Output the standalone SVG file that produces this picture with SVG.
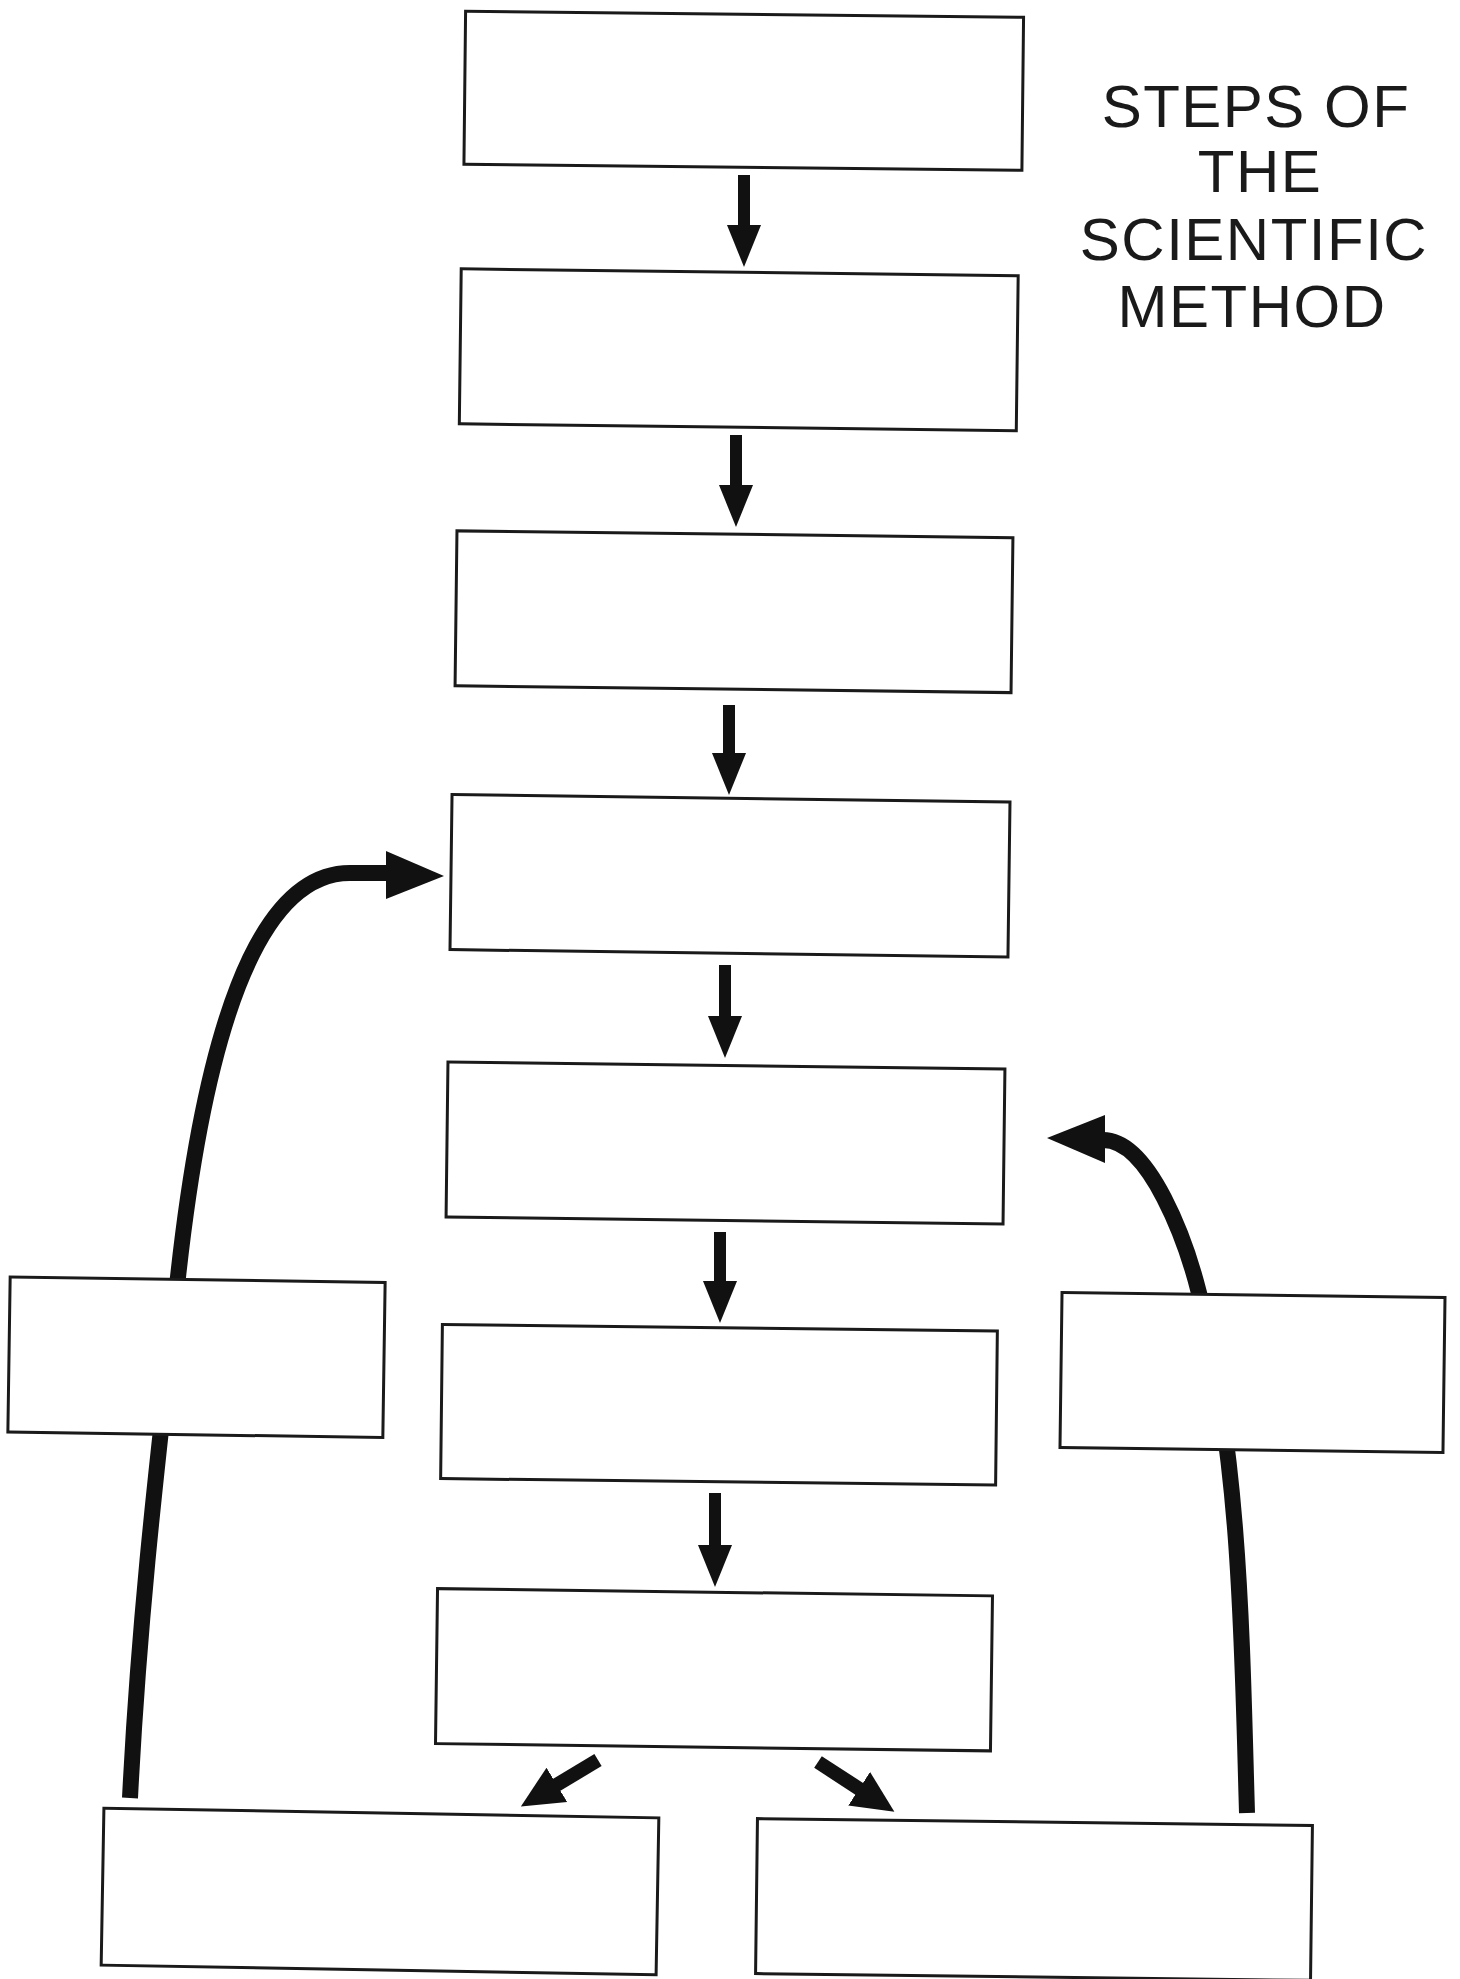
<svg xmlns="http://www.w3.org/2000/svg" width="1460" height="1979" viewBox="0 0 1460 1979">
<style>
.box{fill:#fff;stroke:#1a1a1a;stroke-width:3}
.shaft{stroke:#111;stroke-width:12;fill:none;stroke-linecap:butt}
.diag{stroke:#111;stroke-width:14;fill:none}
.curve{stroke:#111;stroke-width:16;fill:none}
.head{fill:#111}
.title{font-family:"Liberation Sans",Arial,sans-serif;font-size:60px;letter-spacing:1.5px;fill:#1a1a1a;text-anchor:middle}
</style>
<defs>
<marker id="ah" markerUnits="userSpaceOnUse" markerWidth="44" markerHeight="36" refX="1" refY="18" orient="auto" viewBox="0 0 44 36">
<path d="M0,1 L42,18 L0,35 Z" class="head"/>
</marker>
<marker id="ahd" markerUnits="userSpaceOnUse" markerWidth="44" markerHeight="42" refX="1" refY="21" orient="auto" viewBox="0 0 44 42">
<path d="M0,1 L42,21 L0,41 Z" class="head"/>
</marker>
</defs>
<rect x="0" y="0" width="1460" height="1979" fill="#fff"/>
<g id="connectors">
<line class="shaft" x1="744" y1="175" x2="744" y2="226" marker-end="url(#ah)"/>
<line class="shaft" x1="736" y1="435" x2="736" y2="486" marker-end="url(#ah)"/>
<line class="shaft" x1="729" y1="705" x2="729" y2="754" marker-end="url(#ah)"/>
<line class="shaft" x1="725" y1="965" x2="725" y2="1017" marker-end="url(#ah)"/>
<line class="shaft" x1="720" y1="1232" x2="720" y2="1282" marker-end="url(#ah)"/>
<line class="shaft" x1="715" y1="1493" x2="715" y2="1546" marker-end="url(#ah)"/>
<line class="diag" x1="598" y1="1760" x2="556" y2="1785.3" marker-end="url(#ahd)"/>
<line class="diag" x1="818" y1="1762" x2="860" y2="1789.3" marker-end="url(#ahd)"/>
<path class="curve" d="M130,1798 C140,1600 160,1440 178,1277 C204,1040 255,873 350,873 L390,873"/>
<polygon class="head" points="444,876 386,851 386,899"/>
<path class="curve" d="M1247,1813 C1242,1643 1241,1463 1199,1293 C1186.5,1243 1150,1140 1103,1140"/>
<polygon class="head" points="1047,1138 1105,1115 1105,1163"/>
</g>
<g id="node-1"><rect class="box" x="-279" y="-76.5" width="558" height="153" transform="translate(743.75 90.75) rotate(0.62)"/></g>
<g id="node-2"><rect class="box" x="-278.5" y="-77.5" width="557" height="155" transform="translate(738.75 349.75) rotate(0.7)"/></g>
<g id="node-3"><rect class="box" x="-278" y="-77.5" width="556" height="155" transform="translate(734 611.75) rotate(0.7)"/></g>
<g id="node-4"><rect class="box" x="-279" y="-77.5" width="558" height="155" transform="translate(730 875.75) rotate(0.75)"/></g>
<g id="node-5"><rect class="box" x="-278.5" y="-77.5" width="557" height="155" transform="translate(725.5 1143) rotate(0.7)"/></g>
<g id="node-6"><rect class="box" x="-277.5" y="-77" width="555" height="154" transform="translate(719 1404.75) rotate(0.65)"/></g>
<g id="node-7"><rect class="box" x="-277.5" y="-77.5" width="555" height="155" transform="translate(714 1669.75) rotate(0.75)"/></g>
<g id="node-left"><rect class="box" x="-187.5" y="-77.5" width="375" height="155" transform="translate(196.5 1357.25) rotate(0.85)"/></g>
<g id="node-right"><rect class="box" x="-191.5" y="-77.5" width="383" height="155" transform="translate(1252.5 1372.5) rotate(0.75)"/></g>
<g id="node-bottom-left"><rect class="box" x="-277.5" y="-78.5" width="555" height="157" transform="translate(380 1891.5) rotate(1.0)"/></g>
<g id="node-bottom-right"><rect class="box" x="-277.5" y="-77.5" width="555" height="155" transform="translate(1034 1899.5) rotate(0.7)"/></g>
<g id="title">
<text class="title" x="1256" y="127">STEPS OF</text>
<text class="title" x="1260" y="192">THE</text>
<text class="title" x="1254" y="260">SCIENTIFIC</text>
<text class="title" x="1252" y="327">METHOD</text>
</g>
</svg>
